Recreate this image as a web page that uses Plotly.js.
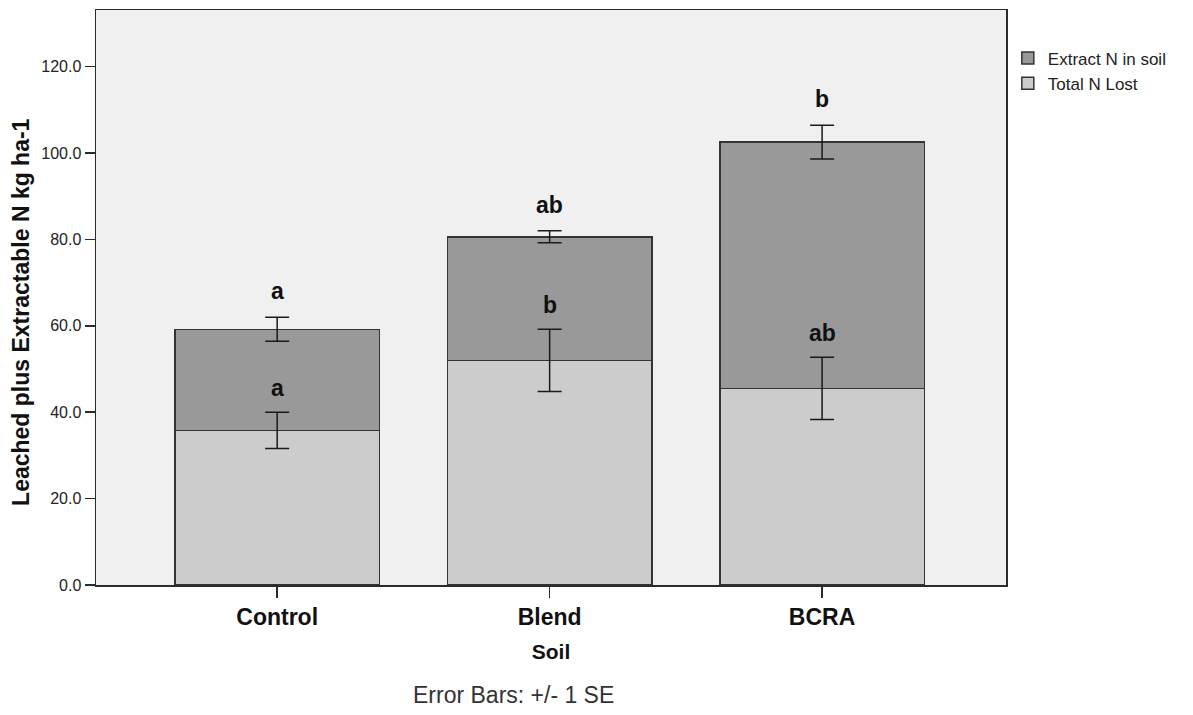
<!DOCTYPE html>
<html>
<head>
<meta charset="utf-8">
<script src="https://cdn.plot.ly/plotly-3.0.1.min.js"></script>
<style>html,body{margin:0;padding:0;background:#fff;}#chart{width:1193px;height:715px;}</style>
</head>
<body>
<div id="chart"></div>
<script>
// Data
var soils = ['Control', 'Blend', 'BCRA'];
var totalNLost = [35.8, 52.0, 45.5];        // lower segment (Total N Lost)
var totalNLostSE = [4.2, 7.2, 7.2];
var extractNInSoil = [23.4, 28.6, 57.0];    // upper segment (Extract N in soil)
var stackTopSE = [2.8, 1.4, 3.9];
var lettersLost = ['a', 'b', 'ab'];
var lettersExtract = ['a', 'ab', 'b'];
var yTicks = [0, 20, 40, 60, 80, 100, 120];

var font = 'Liberation Sans, Arial, sans-serif';
var dark = '#2b2b2b';

var stackTop = soils.map(function (s, i) { return totalNLost[i] + extractNInSoil[i]; });

var traceLost = {
  type: 'bar', name: 'Total N Lost', x: soils, y: totalNLost,
  marker: {color: '#cccccc', line: {color: '#333333', width: 1.5}},
  width: 0.75, hoverinfo: 'y'
};
var traceExtract = {
  type: 'bar', name: 'Extract N in soil', x: soils, y: extractNInSoil,
  marker: {color: '#999999', line: {color: '#333333', width: 1.5}},
  width: 0.75, hoverinfo: 'y'
};
// error bars drawn as overlay so they sit on top of both bar segments
var errLost = {
  type: 'scatter', mode: 'markers', x: soils, y: totalNLost, showlegend: false,
  marker: {size: 1, opacity: 0},
  error_y: {type: 'data', array: totalNLostSE, visible: true, color: '#1a1a1a', thickness: 1.5, width: 12},
  hoverinfo: 'skip'
};
var errTop = {
  type: 'scatter', mode: 'markers', x: soils, y: stackTop, showlegend: false,
  marker: {size: 1, opacity: 0},
  error_y: {type: 'data', array: stackTopSE, visible: true, color: '#1a1a1a', thickness: 1.5, width: 12},
  hoverinfo: 'skip'
};

var annotations = [];
for (var i = 0; i < soils.length; i++) {
  annotations.push({
    x: soils[i], y: totalNLost[i] + totalNLostSE[i], xref: 'x', yref: 'y',
    text: '<b>' + lettersLost[i] + '</b>', showarrow: false,
    yanchor: 'middle', yshift: 24, font: {family: font, size: 23, color: '#111'}
  });
  annotations.push({
    x: soils[i], y: stackTop[i] + stackTopSE[i], xref: 'x', yref: 'y',
    text: '<b>' + lettersExtract[i] + '</b>', showarrow: false,
    yanchor: 'middle', yshift: 26, font: {family: font, size: 23, color: '#111'}
  });
}
annotations.push({
  x: 0.459, y: -0.191, xref: 'paper', yref: 'paper', xanchor: 'center', yanchor: 'middle',
  text: 'Error Bars: +/- 1 SE', showarrow: false,
  font: {family: font, size: 23, color: '#333'}
});
// y-axis title placed as a rotated annotation (matches reference offset)
annotations.push({
  x: -0.0824, y: 0.475, xref: 'paper', yref: 'paper', xanchor: 'center', yanchor: 'middle',
  text: '<b>Leached plus Extractable N kg ha-1</b>', textangle: -90, showarrow: false,
  font: {family: font, size: 23, color: '#111'}
});

var layout = {
  width: 1193, height: 715,
  margin: {l: 96, r: 187, t: 10, b: 130, pad: 0},
  paper_bgcolor: '#ffffff', plot_bgcolor: '#f0f0f0',
  barmode: 'stack',
  showlegend: true,
  legend: {
    x: 1.002, y: 0.947, xanchor: 'left', yanchor: 'top',
    traceorder: 'reversed', bgcolor: 'rgba(0,0,0,0)',
    font: {family: font, size: 17, color: '#222'}
  },
  xaxis: {
    type: 'category', range: [-0.665, 2.675],
    showline: true, linecolor: dark, linewidth: 1.5, mirror: true,
    ticks: 'outside', ticklen: 11, tickwidth: 1.5, tickcolor: dark,
    showgrid: false, zeroline: false,
    tickfont: {family: font, size: 23, color: '#111', weight: 'bold'},
    title: {text: '<b>Soil</b>', font: {family: font, size: 21, color: '#111'}, standoff: 15}
  },
  yaxis: {
    range: [0, 133.1], tickvals: yTicks, tickformat: '.1f',
    showline: true, linecolor: dark, linewidth: 1.5, mirror: true,
    ticks: 'outside', ticklen: 10, tickwidth: 1.5, tickcolor: dark,
    showgrid: false, zeroline: false,
    tickfont: {family: font, size: 16, color: '#222'}
  },
  annotations: annotations
};

Plotly.newPlot('chart', [traceLost, traceExtract, errLost, errTop], layout, {displayModeBar: false, staticPlot: true});
</script>
</body>
</html>
